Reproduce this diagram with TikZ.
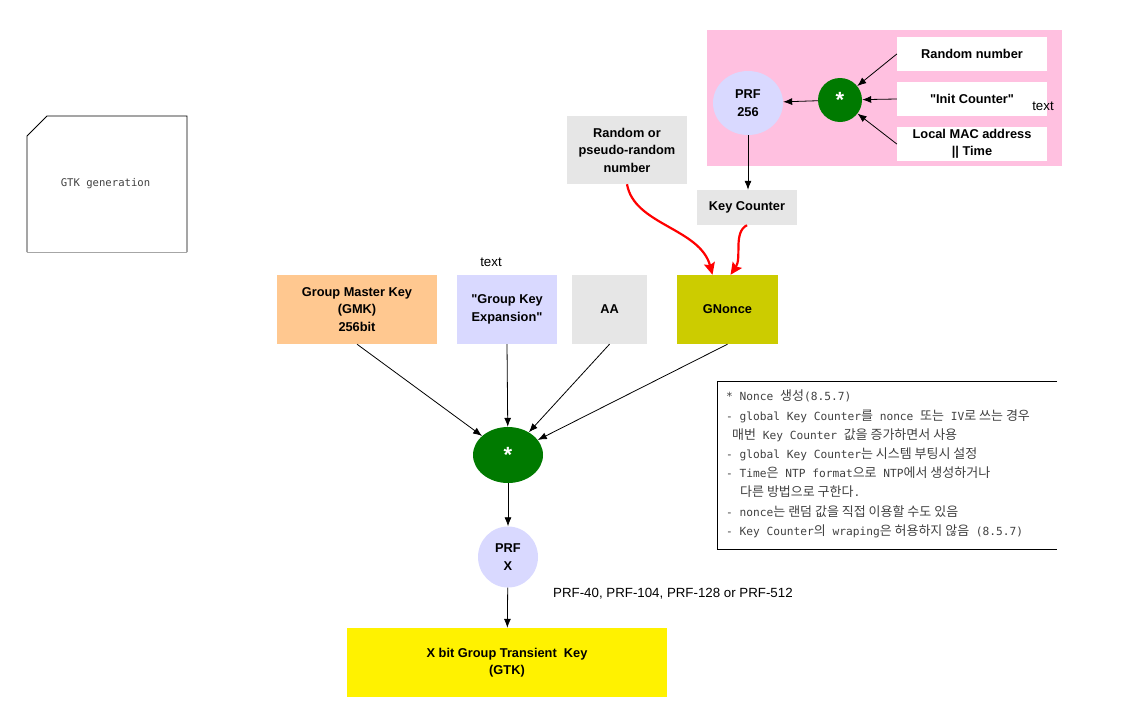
\documentclass[tikz,border=0pt]{standalone}
\usepackage{fontspec}
\setmainfont{Liberation Sans}
\newfontfamily\kr[Scale=1.16]{Noto Sans CJK KR}
\newfontfamily\monof{DejaVu Sans Mono}
\usetikzlibrary{arrows.meta,shapes.geometric}
\definecolor{pinkbg}{HTML}{FFC0E0}
\definecolor{lav}{HTML}{D9D9FF}
\definecolor{lgray}{HTML}{E6E6E6}
\definecolor{gmkc}{HTML}{FFC890}
\definecolor{gnc}{HTML}{CCCC00}
\definecolor{dgreen}{HTML}{007A00}
\newcommand{\K}[1]{{\kr #1}}
\tikzset{
  box/.style={rectangle, inner sep=0pt, align=center, font=\bfseries\fontsize{12.8}{17.5}\selectfont},
  prf/.style={ellipse, fill=lav, inner sep=0pt, align=center, font=\bfseries\fontsize{12.8}{17.5}\selectfont},
  mix/.style={ellipse, fill=dgreen, inner sep=0pt, text=white, font=\bfseries\fontsize{22}{22}\selectfont},
  plain/.style={font=\fontsize{13.3}{15}\selectfont},
  arr/.style={-{Latex[length=9pt,width=7pt]}, line width=0.8pt},
  redarr/.style={-{Stealth[length=12pt,width=11pt,inset=2pt]}, red, line width=2.2pt},
}
\begin{document}
\begin{tikzpicture}[x=1pt,y=-1pt]
\useasboundingbox (0,0) rectangle (1121,715);
% GTK generation frame
\draw[line width=0.8pt] (27,252) -- (27,136) -- (47,116) -- (187,116) -- (187,252);
\draw[gray!70, line width=1pt] (27,252) -- (187,252);
\node[font=\monof\fontsize{10.6}{12}\selectfont, text=black!75] (gtkgen) at (105.5,184) {GTK generation};
% pink region
\fill[pinkbg] (707,30) rectangle (1062,166);
\node[box, fill=white, minimum width=150pt, minimum height=34pt] (rn) at (972,54) {Random number};
\node[box, fill=white, minimum width=150pt, minimum height=34pt] (ic) at (972,99) {\textquotedbl Init Counter\textquotedbl};
\node[box, fill=white, minimum width=150pt, minimum height=34pt] (lm) at (972,144) {Local MAC address\\[-1pt]|| Time};
\node[plain] (t1) at (1043,106) {text};
\node[mix, minimum width=44pt, minimum height=44pt] (s2) at (840,100) {*};
\node[prf, minimum width=70pt, minimum height=64pt] (p1) at (748,103) {PRF\\256};
\draw[arr] (rn.west) -- (s2);
\draw[arr] (ic.west) -- (s2);
\draw[arr] (lm.west) -- (s2);
\draw[arr] (s2) -- (p1);
% key counter & random
\node[box, fill=lgray, minimum width=100pt, minimum height=35pt] (kc) at (747,207.5) {Key Counter};
\node[box, fill=lgray, minimum width=120pt, minimum height=68pt] (rnd) at (627,150) {Random or\\pseudo-random\\number};
\draw[arr] (p1.south) -- (p1.south |- kc.north);
% inputs
\node[box, fill=gmkc, minimum width=160pt, minimum height=69pt] (gmk) at (357,309.5) {Group Master Key\\(GMK)\\256bit};
\node[box, fill=lav, minimum width=100pt, minimum height=69pt] (gke) at (507,309.5) {\textquotedbl Group Key\\Expansion\textquotedbl};
\node[plain] (t2) at (491,262) {text};
\node[box, fill=lgray, minimum width=75pt, minimum height=69pt] (aa) at (609.5,309.5) {AA};
\node[box, fill=gnc, minimum width=101pt, minimum height=69pt] (gn) at (727.5,309.5) {GNonce};
\draw[redarr] (rnd.south) .. controls (634,225) and (700,228) .. ([xshift=-15pt]gn.north);
\draw[redarr] (kc.south) .. controls (733,232) and (742,258) .. ([xshift=3pt]gn.north);
% mixing
\node[mix, minimum width=70pt, minimum height=56pt] (s1) at (508,455) {*};
\draw[arr] (gmk.south) -- (s1);
\draw[arr] (gke.south) -- (s1);
\draw[arr] (aa.south) -- (s1);
\draw[arr] (gn.south) -- (s1);
\node[prf, minimum width=60pt, minimum height=61pt] (p2) at (508,557) {PRF\\X};
\draw[arr] (s1) -- (p2);
\node[plain, anchor=west, inner sep=0pt] (lab) at (553,594) {PRF-40, PRF-104, PRF-128 or PRF-512};
\node[box, fill=yellow, minimum width=320pt, minimum height=69pt] (gtk) at (507,662.5) {X bit Group Transient\ \ Key\\(GTK)};
\draw[arr] (p2) -- (gtk);
% notes
\draw[line width=0.8pt] (1057,381) -- (717,381) -- (717,549) -- (1057,549);
\node[anchor=north west, align=left, inner sep=0pt, text=black!75, font=\monof\fontsize{11.2}{19.2}\selectfont] (notes) at (726,390) {%
* Nonce \K{생성}(8.5.7)\\
- global Key Counter\K{를} nonce \K{또는} IV\K{로 쓰는 경우}\\
\hspace{6pt}\K{매번} Key Counter \K{값을 증가하면서 사용}\\
- global Key Counter\K{는 시스템 부팅시 설정}\\
- Time\K{은} NTP format\K{으로} NTP\K{에서 생성하거나}\\
\hspace{14pt}\K{다른 방법으로 구한다}.\\
- nonce\K{는 랜덤 값을 직접 이용할 수도 있음}\\
- Key Counter\K{의} wraping\K{은 허용하지 않음} (8.5.7)};
\end{tikzpicture}
\end{document}
